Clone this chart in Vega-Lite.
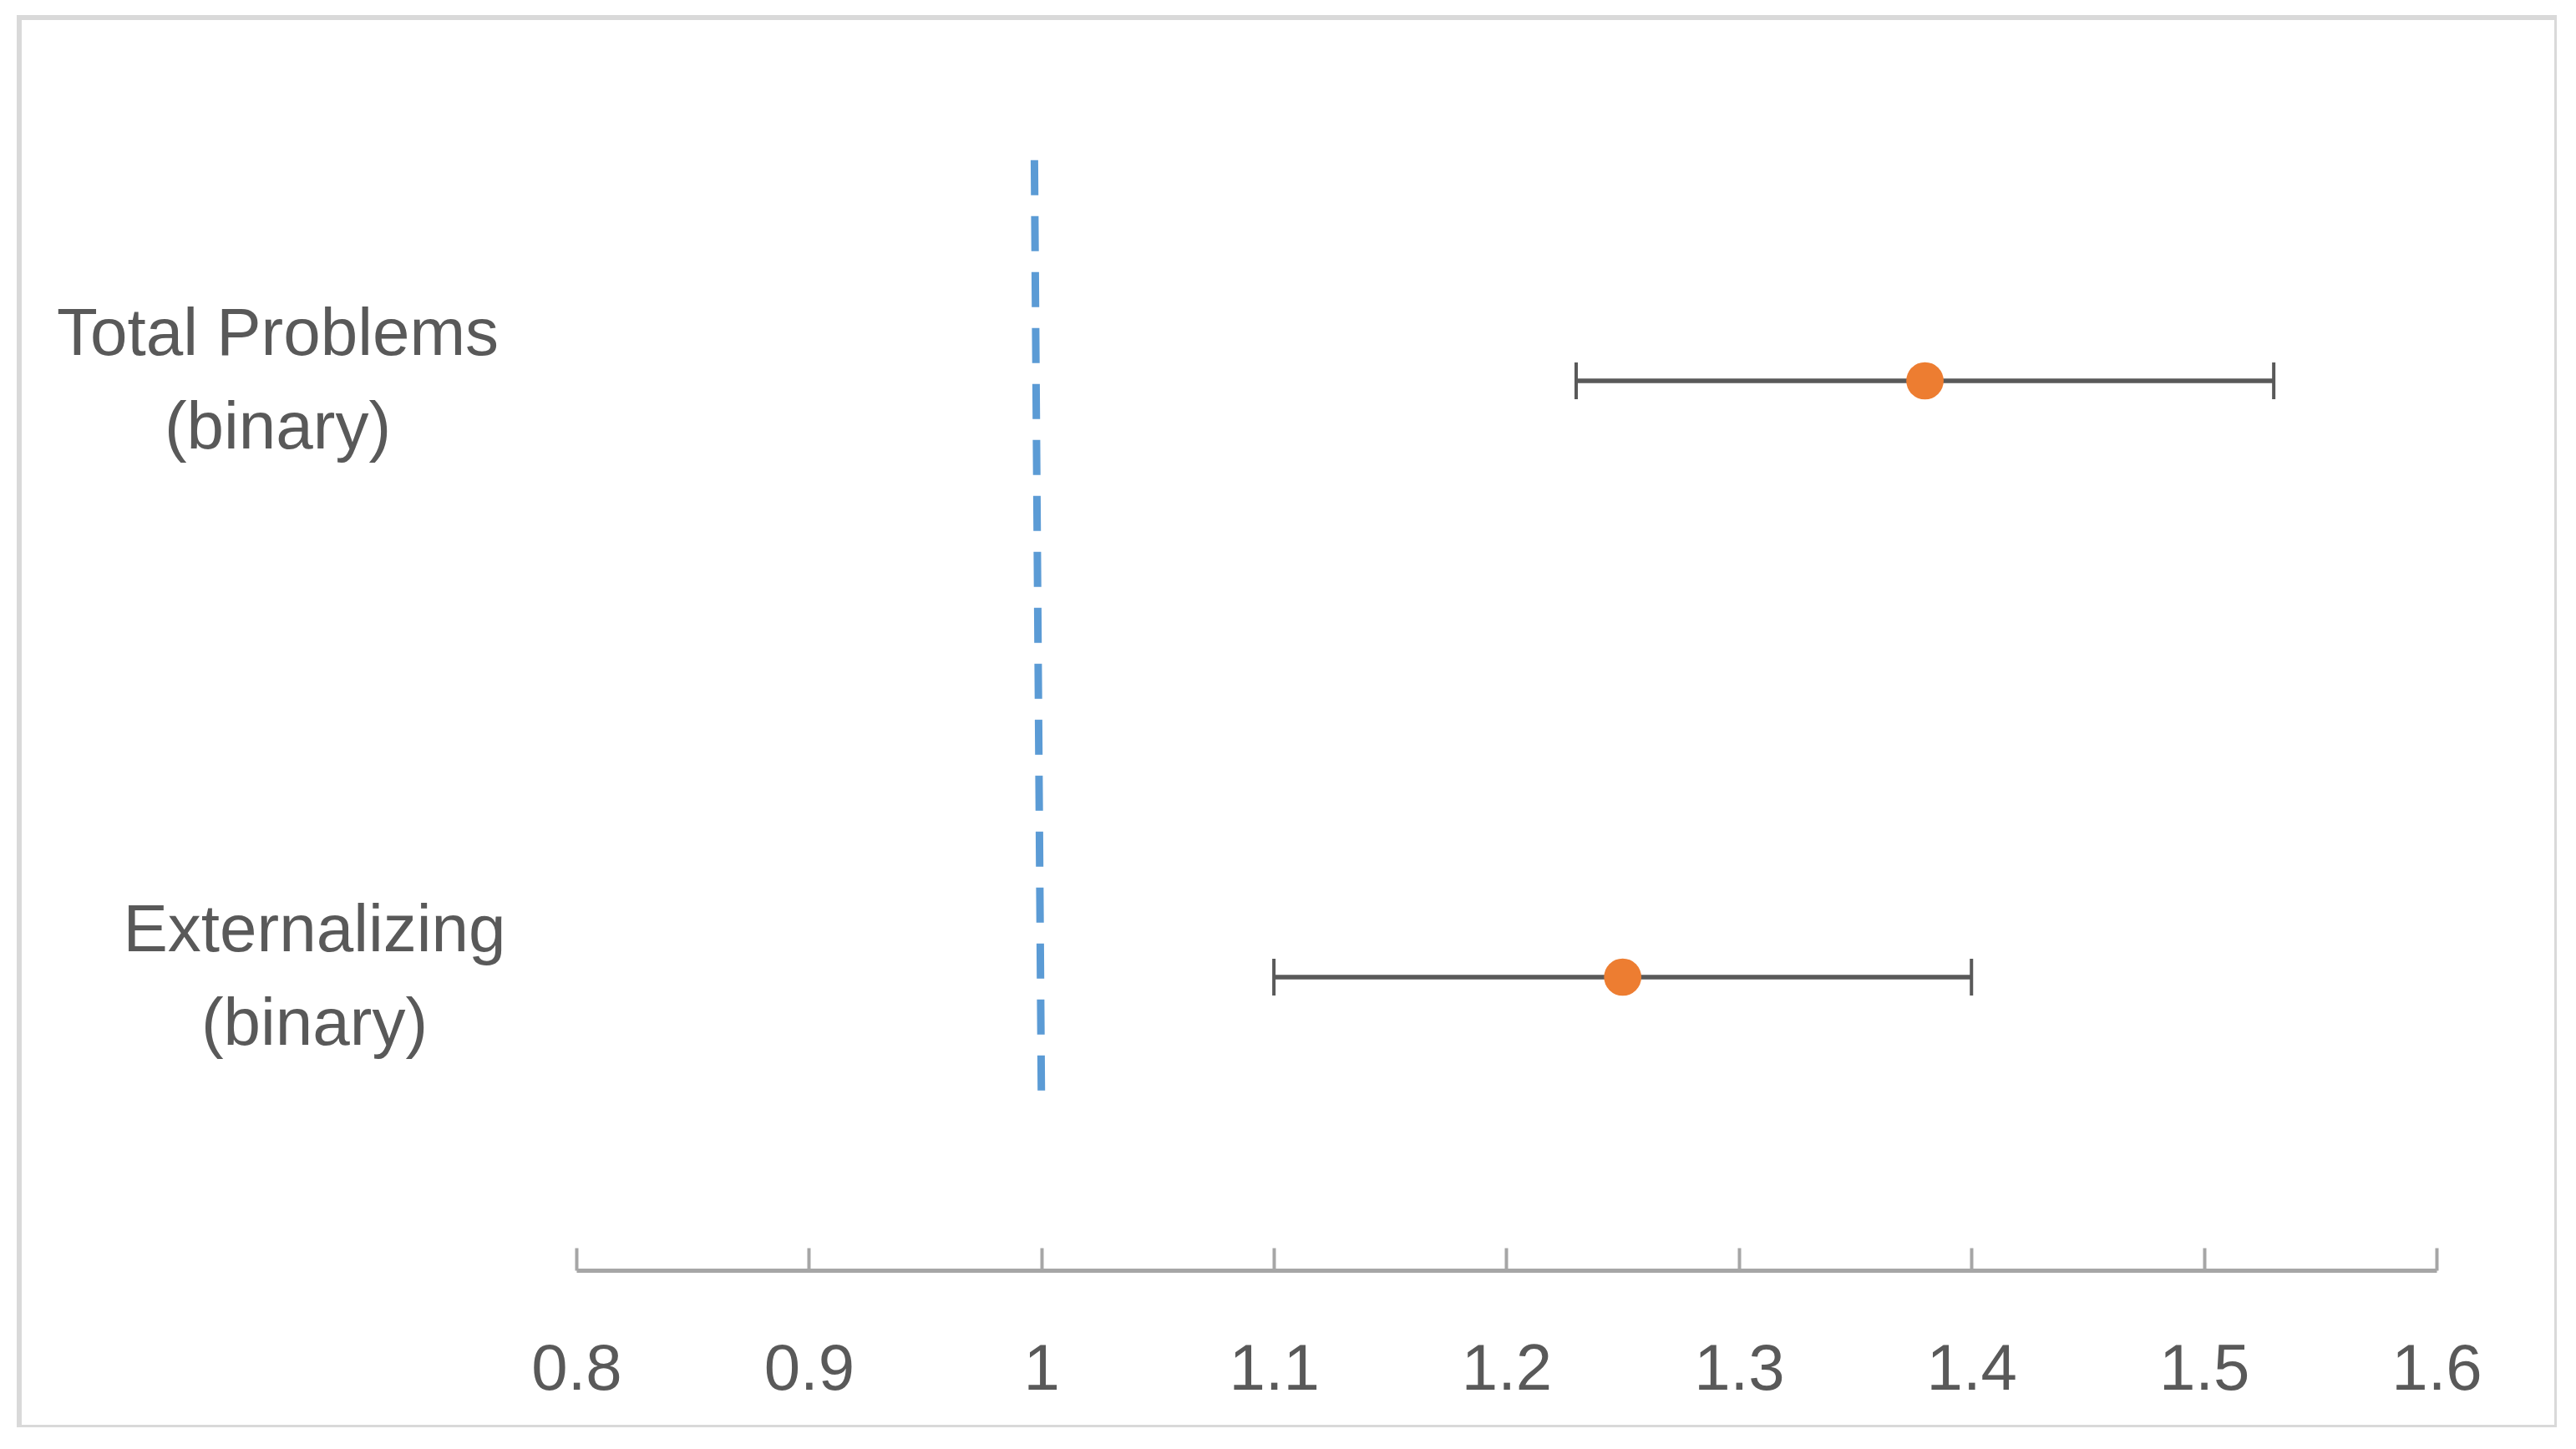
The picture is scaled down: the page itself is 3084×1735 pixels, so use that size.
{
  "$schema": "https://vega.github.io/schema/vega-lite/v6.json",
  "width": 3038,
  "height": 1688,
  "autosize": {"type": "none"},
  "padding": {"left": 23, "top": 21, "right": 0, "bottom": 0},
  "background": "white",
  "config": {"view": {"stroke": "#d9d9d9", "strokeWidth": 6}},
  "datasets": {
    "estimates": [
      {"outcome": "Total Problems (binary)", "pos": 2, "or": 1.38, "lo": 1.23, "hi": 1.53},
      {"outcome": "Externalizing (binary)", "pos": 1, "or": 1.25, "lo": 1.10, "hi": 1.40}
    ],
    "reference": [
      {"x": 0.997, "y": 2.37},
      {"x": 1.0, "y": 0.8}
    ]
  },
  "layer": [
    {
      "data": {"name": "reference"},
      "mark": {"type": "line", "color": "#5B9BD5", "strokeWidth": 9, "strokeDash": [42, 25]},
      "encoding": {
        "x": {
          "field": "x", "type": "quantitative", "title": null,
          "scale": {"domain": [0.8, 1.6], "range": [667, 2894], "nice": false, "zero": false},
          "axis": {
            "title": null,
            "orient": "bottom",
            "offset": -188,
            "values": [0.8, 0.9, 1.0, 1.1, 1.2, 1.3, 1.4, 1.5, 1.6],
            "format": "~g",
            "grid": false,
            "domainColor": "#a6a6a6",
            "domainWidth": 5,
            "tickColor": "#a6a6a6",
            "tickWidth": 4,
            "tickSize": -27,
            "labelFont": "Liberation Sans",
            "labelFontSize": 78,
            "labelColor": "#595959",
            "labelPadding": 107,
            "labelFlush": false,
            "labelOverlap": false
          }
        },
        "y": {
          "field": "y", "type": "quantitative", "title": null,
          "scale": {"domain": [0.5, 2.5], "range": [1506, 78], "nice": false, "zero": false},
          "axis": {
            "title": null,
            "orient": "left",
            "offset": -400,
            "values": [1, 2],
            "domain": false,
            "ticks": false,
            "grid": false,
            "labelExpr": "datum.value == 2 ? ['Total Problems', '(binary)'] : (datum.value == 1 ? ['Externalizing', '(binary)'] : '')",
            "labelAlign": "center",
            "labelBaseline": "middle",
            "labelOffset": -56,
            "labelPadding": {"condition": {"test": "datum.value == 2", "value": 91}, "value": 47},
            "labelFont": "Liberation Sans",
            "labelFontSize": 80,
            "labelLineHeight": 112,
            "labelLimit": 2000,
            "labelColor": "#595959",
            "labelOverlap": false
          }
        },
        "order": {"field": "y", "type": "quantitative", "sort": "descending"}
      }
    },
    {
      "data": {"name": "estimates"},
      "mark": {"type": "rule", "color": "#595959", "strokeWidth": 5.5},
      "encoding": {
        "x": {"field": "lo", "type": "quantitative", "title": null},
        "x2": {"field": "hi"},
        "y": {"field": "pos", "type": "quantitative", "title": null}
      }
    },
    {
      "data": {"name": "estimates"},
      "mark": {"type": "tick", "orient": "vertical", "color": "#595959", "size": 44, "thickness": 4, "opacity": 1},
      "encoding": {
        "x": {"field": "lo", "type": "quantitative", "title": null},
        "y": {"field": "pos", "type": "quantitative", "title": null}
      }
    },
    {
      "data": {"name": "estimates"},
      "mark": {"type": "tick", "orient": "vertical", "color": "#595959", "size": 44, "thickness": 4, "opacity": 1},
      "encoding": {
        "x": {"field": "hi", "type": "quantitative", "title": null},
        "y": {"field": "pos", "type": "quantitative", "title": null}
      }
    },
    {
      "data": {"name": "estimates"},
      "mark": {"type": "circle", "color": "#ED7D31", "size": 2000, "opacity": 1},
      "encoding": {
        "x": {"field": "or", "type": "quantitative", "title": null},
        "y": {"field": "pos", "type": "quantitative", "title": null},
        "tooltip": [{"field": "outcome"}, {"field": "or"}, {"field": "lo"}, {"field": "hi"}]
      }
    }
  ]
}
